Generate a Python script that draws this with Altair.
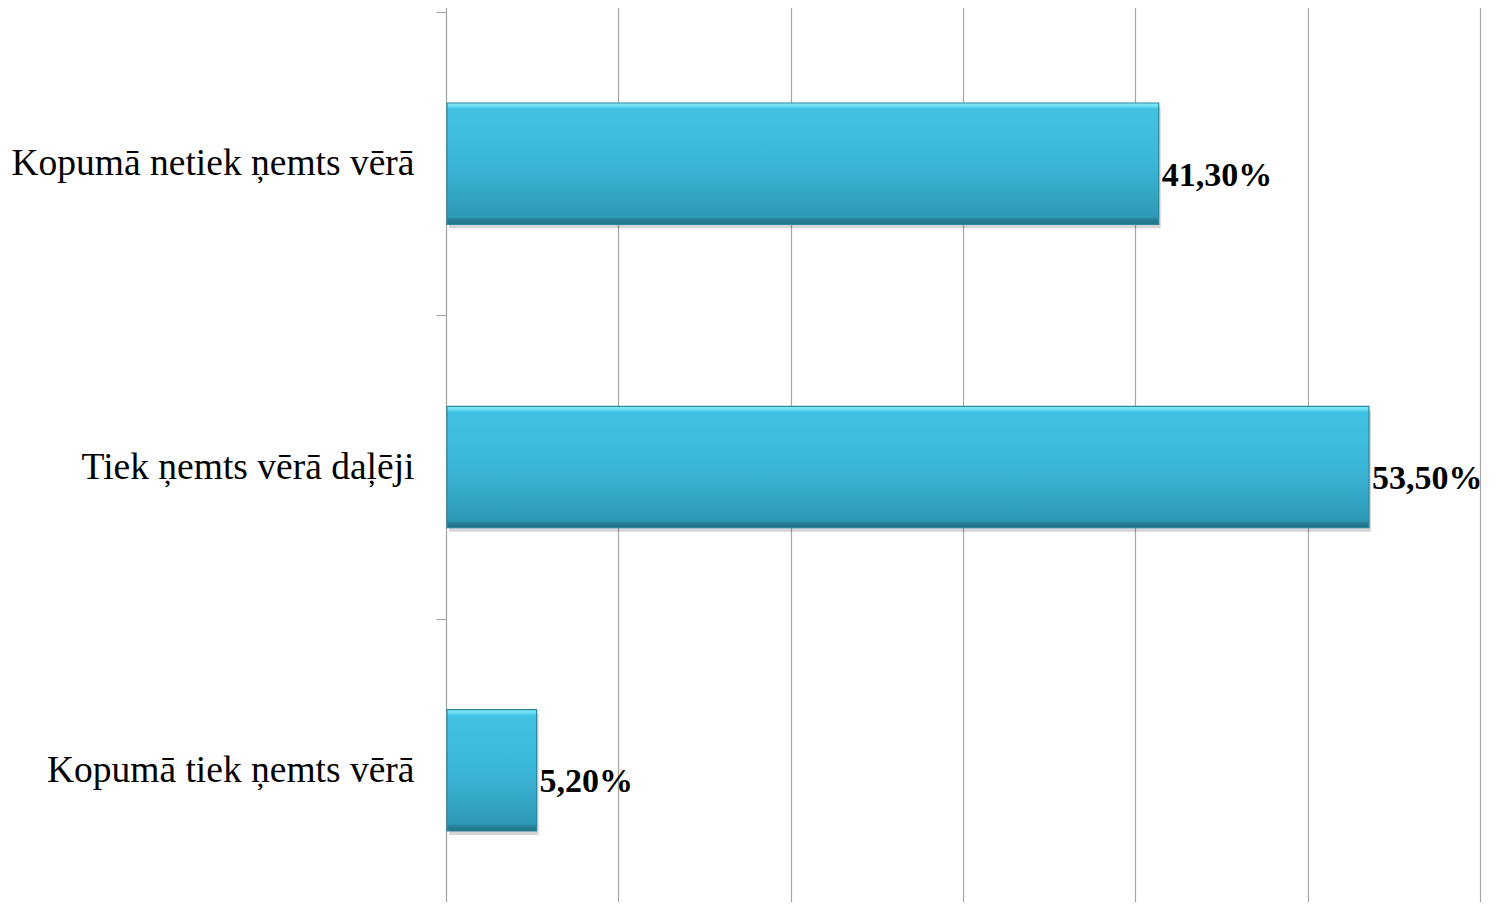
import altair as alt
import pandas as pd

categories = ["Kopumā netiek ņemts vērā", "Tiek ņemts vērā daļēji", "Kopumā tiek ņemts vērā"]
values = [41.3, 53.5, 5.2]
labels = ["41,30%", "53,50%", "5,20%"]

df = pd.DataFrame({"cat": categories, "val": values, "lab": labels})

grad = alt.Gradient(
    gradient="linear", x1=0, y1=0, x2=0, y2=1,
    stops=[
        alt.GradientStop(offset=0.0, color="#86ecfa"),
        alt.GradientStop(offset=0.03, color="#66daf1"),
        alt.GradientStop(offset=0.05, color="#42c2e3"),
        alt.GradientStop(offset=0.5, color="#3bb6d8"),
        alt.GradientStop(offset=0.94, color="#2e9ab6"),
        alt.GradientStop(offset=0.96, color="#27829a"),
        alt.GradientStop(offset=1.0, color="#22707f"),
    ],
)

STEP = 910 / 3

y_enc = alt.Y(
    "cat:N", sort=categories, title=None,
    scale=alt.Scale(paddingInner=0.6, paddingOuter=0.3, range=[0, 910]),
    axis=alt.Axis(
        tickOffset=-STEP / 2, labelOffset=STEP / 2, tickSize=10,
        tickColor="#a0a0a0", domainColor="#a0a0a0",
        labelFont="Liberation Serif", labelFontSize=37.5, labelColor="#000000",
        labelPadding=22, grid=False, labelLimit=500,
    ),
)
x_enc = alt.X(
    "val:Q", title=None,
    scale=alt.Scale(domain=[0, 60], nice=False),
    axis=alt.Axis(
        values=[0, 10, 20, 30, 40, 50, 60], labels=False, ticks=False,
        grid=True, gridColor="#a6a6a6", gridWidth=1.2, domain=False,
    ),
)

base = alt.Chart(df)

shadow = base.mark_bar(color="#000000", opacity=0.16, xOffset=3, yOffset=4).encode(x=x_enc, y=y_enc)
bars = base.mark_bar(color=grad, stroke="#2a87a0", strokeWidth=1.2, xOffset=1).encode(x=x_enc, y=y_enc)
text = base.mark_text(
    align="left", baseline="middle", dx=4, dy=12,
    font="Liberation Serif", fontSize=34, fontWeight="bold", color="#000000",
).encode(x=x_enc, y=y_enc, text="lab:N")

chart = (shadow + bars + text).properties(
    width=1034, height=890,
    autosize=alt.AutoSizeParams(type="none"),
    padding={"left": 438, "top": 4, "right": 5, "bottom": 0},
).configure_view(stroke=None)

chart.save("out.html", embed_options={"renderer": "svg", "actions": False})
